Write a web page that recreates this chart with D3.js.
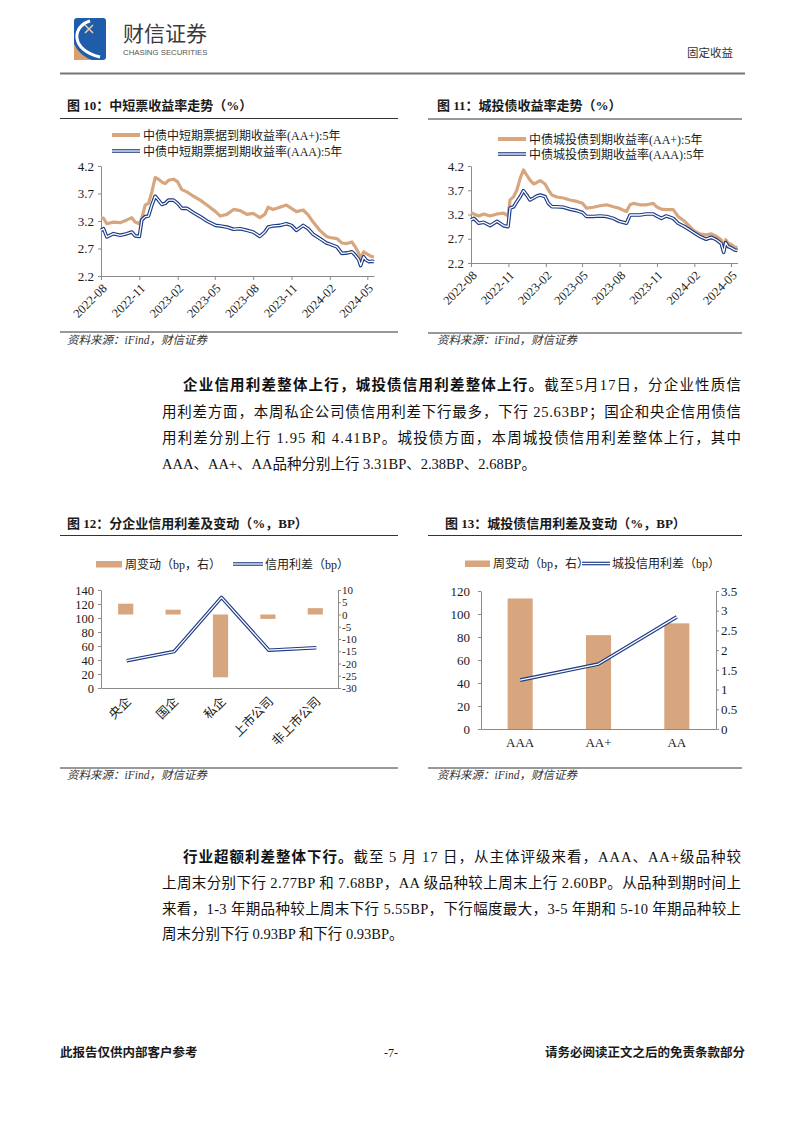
<!DOCTYPE html>
<html><head><meta charset="utf-8">
<script src="https://cdn.jsdelivr.net/npm/d3@7"></script>
<style>
body{margin:0;background:#fff;}
svg{display:block;}
text{font-family:"Liberation Serif","Noto Sans CJK SC",serif;}
</style></head><body>
<svg id="page" width="802" height="1133"></svg>
<script>
// ---------------- DATA ----------------
const c10Dates = ["2022-08-01","2022-08-07","2022-08-15","2022-08-31","2022-09-16","2022-10-02","2022-10-14","2022-10-22","2022-11-01","2022-11-07","2022-11-15","2022-11-23","2022-12-01","2022-12-09","2022-12-17","2022-12-25","2023-01-02","2023-01-10","2023-01-22","2023-02-01","2023-02-11","2023-02-23","2023-03-11","2023-03-27","2023-04-12","2023-05-03","2023-05-14","2023-05-30","2023-06-15","2023-07-01","2023-07-17","2023-08-01","2023-08-17","2023-08-29","2023-09-06","2023-09-18","2023-10-04","2023-10-20","2023-11-01","2023-11-13","2023-11-29","2023-12-11","2023-12-23","2024-01-08","2024-01-24","2024-02-01","2024-02-18","2024-03-01","2024-03-13","2024-03-25","2024-04-02","2024-04-10","2024-04-15","2024-04-22","2024-04-28","2024-05-05","2024-05-12","2024-05-17"];
const c10AAplus = [3.26,3.25,3.15,3.18,3.17,3.22,3.26,3.18,3.15,3.25,3.49,3.52,3.73,3.99,3.96,3.91,3.88,3.94,3.96,3.91,3.77,3.73,3.65,3.58,3.49,3.37,3.29,3.32,3.41,3.39,3.32,3.34,3.26,3.32,3.45,3.41,3.45,3.49,3.43,3.37,3.40,3.31,3.18,3.03,2.92,2.90,2.88,2.80,2.79,2.82,2.73,2.62,2.52,2.64,2.61,2.58,2.55,2.55];
const c10AAA = [3.03,3.06,2.91,2.97,2.94,2.97,3.00,2.93,2.92,3.22,3.28,3.29,3.49,3.65,3.58,3.50,3.52,3.58,3.58,3.52,3.43,3.43,3.35,3.28,3.20,3.12,3.11,3.09,3.05,3.06,3.03,3.00,2.92,3.00,3.09,3.11,3.12,3.15,3.12,3.03,3.12,3.06,2.96,2.88,2.80,2.78,2.73,2.61,2.62,2.64,2.58,2.50,2.39,2.55,2.49,2.46,2.47,2.46];

const c11Dates = ["2022-08-01","2022-08-08","2022-08-20","2022-09-01","2022-09-17","2022-10-04","2022-10-20","2022-10-31","2022-11-05","2022-11-14","2022-11-22","2022-11-30","2022-12-08","2022-12-16","2022-12-24","2023-01-02","2023-01-10","2023-01-18","2023-01-30","2023-02-07","2023-02-16","2023-02-28","2023-03-16","2023-04-01","2023-04-18","2023-05-02","2023-05-12","2023-05-29","2023-06-14","2023-06-30","2023-07-17","2023-07-31","2023-08-18","2023-08-27","2023-09-04","2023-09-20","2023-10-06","2023-10-23","2023-10-31","2023-11-12","2023-11-24","2023-12-11","2023-12-23","2024-01-08","2024-01-21","2024-01-30","2024-02-14","2024-03-01","2024-03-14","2024-03-26","2024-04-07","2024-04-13","2024-04-18","2024-04-24","2024-05-02","2024-05-10","2024-05-17"];
const c11AAplus = [3.24,3.21,3.17,3.21,3.17,3.21,3.23,3.17,3.50,3.57,3.71,3.95,4.12,4.01,3.91,3.83,3.86,3.90,3.83,3.71,3.60,3.56,3.54,3.50,3.47,3.43,3.33,3.35,3.38,3.40,3.36,3.33,3.26,3.40,3.43,3.40,3.40,3.43,3.36,3.31,3.30,3.30,3.16,3.06,2.95,2.87,2.80,2.78,2.80,2.75,2.68,2.49,2.68,2.61,2.58,2.53,2.52];
const c11AAA = [3.09,3.12,3.02,3.04,2.97,3.06,2.97,2.95,3.33,3.36,3.47,3.57,3.69,3.60,3.50,3.54,3.58,3.60,3.57,3.43,3.36,3.36,3.35,3.31,3.28,3.24,3.16,3.16,3.17,3.16,3.12,3.06,3.02,3.19,3.19,3.19,3.21,3.21,3.17,3.12,3.17,3.12,3.02,2.95,2.88,2.83,2.75,2.69,2.73,2.68,2.60,2.42,2.62,2.54,2.51,2.47,2.46];

const yieldTicks = [2.2, 2.7, 3.2, 3.7, 4.2];
const monthTicks = ["2022-08","2022-11","2023-02","2023-05","2023-08","2023-11","2024-02","2024-05"];

const c12Categories = ["央企","国企","私企","上市公司","非上市公司"];
const c12Spread = [39, 52, 129.5, 54, 57.5];
const c12Change = [4.41, 1.95, -25.63, -1.8, 2.6];
const c12LeftTicks = [0,20,40,60,80,100,120,140];
const c12RightTicks = [-30,-25,-20,-15,-10,-5,0,5,10];

const c13Categories = ["AAA","AA+","AA"];
const c13Spread = [42.5, 56.5, 97.5];
const c13Change = [3.31, 2.38, 2.68];
const c13LeftTicks = [0,20,40,60,80,100,120];
const c13RightTicks = [0,0.5,1,1.5,2,2.5,3,3.5];

// ---------------- STYLE ----------------
const TAN = "#D8A67E", NAVY = "#1C3A85", AXIS = "#8a8a8a", TXT = "#1a1a1a";
const svg = d3.select("#page");
svg.append("rect").attr("width",802).attr("height",1133).attr("fill","#fff");
const parse = d3.timeParse("%Y-%m-%d");
const parseM = d3.timeParse("%Y-%m");

function doubleLine(g, d) {
  g.append("path").attr("d", d).attr("fill","none").attr("stroke",NAVY).attr("stroke-width",3.6).attr("stroke-linejoin","round");
  g.append("path").attr("d", d).attr("fill","none").attr("stroke","#fff").attr("stroke-width",1.3).attr("stroke-linejoin","round");
}
function styleAxis(g, fs) {
  g.select(".domain").attr("stroke", AXIS);
  g.selectAll(".tick line").attr("stroke", AXIS);
  g.selectAll(".tick text").attr("fill", TXT).style("font-size", fs + "px")
    .style("font-family", '"Liberation Serif","Noto Sans CJK SC",serif');
}
function text(x, y, s, opt = {}) {
  const t = svg.append("text").attr("x", x).attr("y", y).text(s)
    .attr("fill", opt.fill || TXT).style("font-size", (opt.fs || 13) + "px");
  if (opt.bold) t.style("font-weight", "bold");
  if (opt.italic) t.style("font-style", "italic");
  if (opt.anchor) t.attr("text-anchor", opt.anchor);
  return t;
}
function hline(x1, x2, y, color = "#333", w = 1) {
  svg.append("line").attr("x1",x1).attr("x2",x2).attr("y1",y).attr("y2",y).attr("stroke",color).attr("stroke-width",w);
}

// ---------------- HEADER ----------------
const logo = svg.append("g");
logo.append("rect").attr("x",74).attr("y",18).attr("width",32).attr("height",42).attr("rx",3).attr("fill","#1F5CAA");
logo.append("path").attr("d","M74,44 L74,60 L92,60 Q80,56 74,44 Z").attr("fill","#D9A06B");
logo.append("path").attr("d","M90,21 C72,26 70,50 100,57").attr("fill","none").attr("stroke","#fff").attr("stroke-width",3);
logo.append("path").attr("d","M85,25 L93,33 M93,25 L85,33").attr("stroke","#F0C9A0").attr("stroke-width",1.6);
text(123, 41, "财信证券", {fs: 21, fill: "#3a3a3a"}).style("font-family",'"Noto Sans CJK SC",sans-serif');
text(123, 55, "CHASING SECURITIES", {fs: 7.8, fill: "#555"}).style("font-family",'"Liberation Sans",sans-serif');
text(687, 57, "固定收益", {fs: 11.5, fill: "#333"});
hline(60, 745, 73.5, "#777", 2.2);

// ---------------- LINE CHARTS ----------------
function lineChart(cfg) {
  const g = svg.append("g");
  const x = d3.scaleTime().domain([parse("2022-08-01"), parse("2024-05-17")]).range([cfg.x0, cfg.x1]);
  const y = d3.scaleLinear().domain([2.2, 4.2]).range([cfg.yb, cfg.yt]);
  const ax = g.append("g").attr("transform", `translate(0,${cfg.yb})`)
    .call(d3.axisBottom(x).tickValues(monthTicks.map(parseM)).tickFormat(d3.timeFormat("%Y-%m")).tickSize(4).tickSizeOuter(0));
  styleAxis(ax, 12.5);
  ax.selectAll(".tick text").attr("x",0).attr("y",0).attr("dy","0.35em")
    .attr("text-anchor","end").attr("transform","translate(3,10) rotate(-45)");
  const ay = g.append("g").attr("transform", `translate(${cfg.x0},0)`)
    .call(d3.axisLeft(y).tickValues(yieldTicks).tickFormat(d3.format(".1f")).tickSize(3).tickSizeOuter(0).tickPadding(4));
  styleAxis(ay, 13);
  const pts = (vals) => cfg.dates.map((d, i) => [x(parse(d)), y(vals[i])]);
  const line = d3.line().curve(d3.curveLinear);
  g.append("path").attr("d", line(pts(cfg.a))).attr("fill","none").attr("stroke",TAN).attr("stroke-width",3.2).attr("stroke-linejoin","round");
  doubleLine(g, line(pts(cfg.b)));
  const L = cfg.leg;
  g.append("line").attr("x1",L.x).attr("x2",L.x+28).attr("y1",L.y1).attr("y2",L.y1).attr("stroke",TAN).attr("stroke-width",4);
  doubleLine(g, `M${L.x},${L.y2}L${L.x+28},${L.y2}`);
  text(L.x+31, L.y1+4.5, cfg.names[0], {fs: 12});
  text(L.x+31, L.y2+4.5, cfg.names[1], {fs: 12});
}

text(67, 110, "图 10：中短票收益率走势（%）", {fs: 13, bold: true});
hline(60, 398, 118.5);
lineChart({x0:101, x1:374, yt:166, yb:276, dates:c10Dates, a:c10AAplus, b:c10AAA,
  leg:{x:112, y1:135, y2:151},
  names:["中债中短期票据到期收益率(AA+):5年","中债中短期票据到期收益率(AAA):5年"]});
hline(60, 398, 332);
text(67, 344, "资料来源：iFind，财信证券", {fs: 11.5, italic: true, fill:"#333"});

text(437, 110, "图 11：城投债收益率走势（%）", {fs: 13, bold: true});
hline(428, 742, 119);
lineChart({x0:471, x1:737.5, yt:166, yb:263, dates:c11Dates, a:c11AAplus, b:c11AAA,
  leg:{x:498, y1:139, y2:154},
  names:["中债城投债到期收益率(AA+):5年","中债城投债到期收益率(AAA):5年"]});
hline(428, 742, 333);
text(437, 344, "资料来源：iFind，财信证券", {fs: 11.5, italic: true, fill:"#333"});

// ---------------- PARAGRAPHS ----------------
function paraLine(x, y, w, parts) {
  const t = svg.append("text").attr("x", x).attr("y", y).attr("fill", "#111").style("font-size","14.5px");
  parts.forEach(p => {
    const s = t.append("tspan").text(p[0]);
    if (p[1]) s.style("font-weight","bold");
  });
  if (w) {
    const nat = t.node().getComputedTextLength();
    t.attr("textLength", w).attr("lengthAdjust", nat > w ? "spacingAndGlyphs" : "spacing");
  }
}
const p1 = [
  [183, 390, 558, [["企业信用利差整体上行，城投债信用利差整体上行。",1],["截至5月17日，分企业性质信",0]]],
  [162, 417, 579, [["用利差方面，本周私企公司债信用利差下行最多，下行 25.63BP；国企和央企信用债信",0]]],
  [162, 443, 579, [["用利差分别上行 1.95 和 4.41BP。城投债方面，本周城投债信用利差整体上行，其中",0]]],
  [162, 469, 0, [["AAA、AA+、AA品种分别上行 3.31BP、2.38BP、2.68BP。",0]]]
];
const p2 = [
  [183, 862, 558, [["行业超额利差整体下行。",1],["截至 5 月 17 日，从主体评级来看，AAA、AA+级品种较",0]]],
  [162, 888, 579, [["上周末分别下行 2.77BP 和 7.68BP，AA 级品种较上周末上行 2.60BP。从品种到期时间上",0]]],
  [162, 914, 579, [["来看，1-3 年期品种较上周末下行 5.55BP，下行幅度最大，3-5 年期和 5-10 年期品种较上",0]]],
  [162, 939, 0, [["周末分别下行 0.93BP 和下行 0.93BP。",0]]]
];
p1.concat(p2).forEach(l => paraLine(...l));

// ---------------- CHART 12 ----------------
(function(){
  const g = svg.append("g");
  const x = d3.scaleBand().domain(c12Categories).range([101, 338]);
  const yL = d3.scaleLinear().domain([0,140]).range([688,590]);
  const yR = d3.scaleLinear().domain([-30,10]).range([688,590]);
  const bw = x.bandwidth()*0.32;
  g.selectAll(".bar").data(c12Categories).join("rect")
    .attr("x", d => x(d) + x.bandwidth()/2 - bw/2 + 1)
    .attr("y", (d,i) => Math.min(yR(0), yR(c12Change[i])))
    .attr("width", bw)
    .attr("height", (d,i) => Math.abs(yR(c12Change[i]) - yR(0)))
    .attr("fill", TAN);
  const ax = g.append("g").attr("transform","translate(0,688)")
    .call(d3.axisBottom(x).tickSize(0).tickFormat(d=>d));
  styleAxis(ax, 12.5);
  ax.selectAll(".tick text").attr("x",0).attr("y",0).attr("dy","0.35em")
    .attr("text-anchor","end").attr("transform","translate(4,11) rotate(-45)");
  const ayL = g.append("g").attr("transform","translate(101,0)")
    .call(d3.axisLeft(yL).tickValues(c12LeftTicks).tickFormat(d=>String(d)).tickSize(3).tickSizeOuter(0).tickPadding(4));
  styleAxis(ayL, 12.5);
  const ayR = g.append("g").attr("transform","translate(338,0)")
    .call(d3.axisRight(yR).tickValues(c12RightTicks).tickFormat(d=>String(d)).tickSize(3).tickSizeOuter(0).tickPadding(1));
  styleAxis(ayR, 11);
  const line = d3.line();
  doubleLine(g, line(c12Categories.map((c,i)=>[x(c)+x.bandwidth()/2+2, yL(c12Spread[i])])));
  g.append("rect").attr("x",96).attr("y",561).attr("width",26).attr("height",6.5).attr("fill",TAN);
  text(125, 568.5, "周变动（bp，右）", {fs: 12});
  doubleLine(g, "M233,564L263,564");
  text(265, 568.5, "信用利差（bp）", {fs: 12});
})();
text(67, 528, "图 12：分企业信用利差及变动（%，BP）", {fs: 13, bold: true});
hline(60, 398, 535.5);
hline(60, 398, 768);
text(67, 779, "资料来源：iFind，财信证券", {fs: 11.5, italic: true, fill:"#333"});

// ---------------- CHART 13 ----------------
(function(){
  const g = svg.append("g");
  const x = d3.scaleBand().domain(c13Categories).range([481, 716]);
  const yL = d3.scaleLinear().domain([0,120]).range([729,591]);
  const yR = d3.scaleLinear().domain([0,3.5]).range([729,591]);
  const bw = x.bandwidth()*0.32;
  g.selectAll(".bar").data(c13Categories).join("rect")
    .attr("x", d => x(d) + x.bandwidth()/2 - bw/2)
    .attr("y", (d,i) => yR(c13Change[i]))
    .attr("width", bw)
    .attr("height", (d,i) => yR(0) - yR(c13Change[i]))
    .attr("fill", TAN);
  const ax = g.append("g").attr("transform","translate(0,729)")
    .call(d3.axisBottom(x).tickSize(0).tickPadding(9));
  styleAxis(ax, 13);
  const ayL = g.append("g").attr("transform","translate(481,0)")
    .call(d3.axisLeft(yL).tickValues(c13LeftTicks).tickFormat(d=>String(d)).tickSize(3).tickSizeOuter(0).tickPadding(8));
  styleAxis(ayL, 13);
  const ayR = g.append("g").attr("transform","translate(716,0)")
    .call(d3.axisRight(yR).tickValues(c13RightTicks).tickFormat(d=>String(d)).tickSize(3).tickSizeOuter(0).tickPadding(2));
  styleAxis(ayR, 13);
  const line = d3.line();
  doubleLine(g, line(c13Categories.map((c,i)=>[x(c)+x.bandwidth()/2, yL(c13Spread[i])])));
  g.append("rect").attr("x",465).attr("y",560.5).attr("width",25).attr("height",6.5).attr("fill",TAN);
  text(493, 568, "周变动（bp，右）", {fs: 12});
  doubleLine(g, "M582,563.5L610,563.5");
  text(612, 568, "城投信用利差（bp）", {fs: 12});
})();
text(445, 528, "图 13：城投债信用利差及变动（%，BP）", {fs: 13, bold: true});
hline(428, 742, 535.5);
hline(428, 742, 768);
text(437, 779, "资料来源：iFind，财信证券", {fs: 11.5, italic: true, fill:"#333"});

// ---------------- FOOTER ----------------
text(60, 1057, "此报告仅供内部客户参考", {fs: 12.5, bold: true});
text(391, 1057, "-7-", {fs: 12, anchor: "middle"});
text(745, 1057, "请务必阅读正文之后的免责条款部分", {fs: 12.5, bold: true, anchor: "end"});
</script>
</body></html>
